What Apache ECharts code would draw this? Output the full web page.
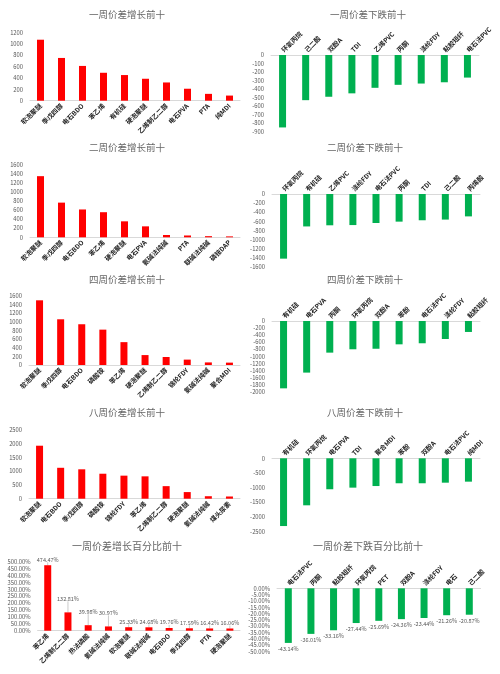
<!DOCTYPE html>
<html><head><meta charset="utf-8">
<script src="https://cdn.jsdelivr.net/npm/echarts@6/dist/echarts.min.js"></script>
<style>html,body{margin:0;padding:0;background:#fff}#c{width:500px;height:674px}</style>
</head><body><div id="c"></div>
<script>
// ---- data ----
const cat1 = ['软泡聚醚','季戊四醇','电石BDO','苯乙烯','有机硅','硬泡聚醚','乙烯制乙二醇','电石PVA','PTA','纯MDI'];
const val1 = [1070,750,610,490,450,385,320,210,120,90];
const cat2 = ['环氧丙烷','己二酸','双酚A','TDI','乙烯PVC','丙酮','涤纶FDY','粘胶短纤','电石法PVC'];
const val2 = [-850,-530,-490,-450,-385,-350,-335,-320,-265];
const cat3 = ['软泡聚醚','季戊四醇','电石BDO','苯乙烯','硬泡聚醚','电石PVA','氨碱法纯碱','PTA','联碱法纯碱','磷铵DAP'];
const val3 = [1340,760,610,550,350,240,50,40,25,20];
const cat4 = ['环氧丙烷','有机硅','乙烯PVC','涤纶FDY','电石法PVC','丙酮','TDI','己二酸','丙烯酸'];
const val4 = [-1415,-710,-685,-680,-635,-605,-575,-560,-490];
const cat5 = ['软泡聚醚','季戊四醇','电石BDO','磷酸铵','苯乙烯','硬泡聚醚','乙烯制乙二醇','锦纶FDY','氨碱法纯碱','聚合MDI'];
const val5 = [1500,1060,945,820,530,230,185,125,60,55];
const cat6 = ['有机硅','电石PVA','丙酮','环氧丙烷','双酚A','苯酚','电石法PVC','涤纶FDY','粘胶短纤'];
const val6 = [-1905,-1460,-895,-800,-785,-660,-630,-510,-310];
const cat7 = ['软泡聚醚','电石BDO','季戊四醇','磷酸铵','锦纶FDY','苯乙烯','乙烯制乙二醇','硬泡聚醚','氨碱法纯碱','煤头尿素'];
const val7 = [1920,1120,1065,905,835,810,455,240,90,80];
const cat8 = ['有机硅','环氧丙烷','电石PVA','TDI','聚合MDI','苯酚','双酚A','电石法PVC','纯MDI'];
const val8 = [-2320,-1610,-1060,-1005,-950,-855,-855,-835,-800];
const cat9 = ['苯乙烯','乙烯制乙二醇','热法磷酸','氨碱法纯碱','软泡聚醚','联碱法纯碱','电石BDO','季戊四醇','PTA','硬泡聚醚'];
const val9 = [474.47,132.81,39.98,30.97,25.33,24.68,19.76,17.59,16.42,16.06];
const cat10 = ['电石法PVC','丙酮','粘胶短纤','环氧丙烷','PET','双酚A','涤纶FDY','电石','己二酸'];
const val10 = [-43.14,-36.01,-33.16,-27.44,-25.69,-24.36,-23.44,-21.26,-20.87];
const titles = ['一周价差增长前十','一周价差下跌前十','二周价差增长前十','二周价差下跌前十','四周价差增长前十','四周价差下跌前十','八周价差增长前十','八周价差下跌前十','一周价差增长百分比前十','一周价差下跌百分比前十'];

// ---- layout ----
const FONT = '"Noto Sans CJK SC","Noto Sans",sans-serif';
const RED = '#ff0000', GREEN = '#00b050';
const panels = [
  {cats:cat1, vals:val1, tx:127, ty:17,  grid:{left:30, top:32.3, width:210, height:68.4}, min:0, max:1200, iv:200},
  {cats:cat2, vals:val2, tx:368, ty:17,  grid:{left:271, top:55, width:208, height:76.7}, min:-900, max:0, iv:100},
  {cats:cat3, vals:val3, tx:127, ty:150, grid:{left:30, top:164.3, width:210, height:73}, min:0, max:1600, iv:200},
  {cats:cat4, vals:val4, tx:365, ty:150, grid:{left:272, top:194, width:208, height:73.1}, min:-1600, max:0, iv:200},
  {cats:cat5, vals:val5, tx:127, ty:282, grid:{left:29, top:296, width:211, height:69}, min:0, max:1600, iv:200},
  {cats:cat6, vals:val6, tx:365, ty:282, grid:{left:272, top:321, width:208, height:70.7}, min:-2000, max:0, iv:200},
  {cats:cat7, vals:val7, tx:127, ty:415, grid:{left:29, top:429.7, width:211, height:69}, min:0, max:2500, iv:500},
  {cats:cat8, vals:val8, tx:365, ty:415, grid:{left:272, top:458.3, width:208, height:73}, min:-2500, max:0, iv:500},
  {cats:cat9, vals:val9, tx:127, ty:548, grid:{left:37.6, top:561.7, width:202.4, height:69}, min:0, max:500, iv:50, pct:true},
  {cats:cat10, vals:val10, tx:368, ty:548, grid:{left:277, top:588.3, width:203.6, height:63.3}, min:-50, max:0, iv:5, pct:true}
];

const option = {animation:false, title:[], grid:[], xAxis:[], yAxis:[], series:[]};
panels.forEach((p, i) => {
  const neg = p.max === 0;
  option.title.push({text:titles[i], left:p.tx, top:p.ty - 7, textAlign:'center', padding:0,
    textStyle:{fontSize: p.pct ? 10 : 9.5, color:'#666', fontWeight:'normal', fontFamily:FONT}});
  option.grid.push(Object.assign({containLabel:false}, p.grid));
  option.xAxis.push({type:'category', gridIndex:i, data:p.cats, position: neg ? 'top' : 'bottom',
    axisLine:{show:true, lineStyle:{color:'#d9d9d9', width:1}}, axisTick:{show:false},
    axisLabel:{rotate:45, interval:0, margin:4, fontSize:6.5, color:'#222', fontWeight:'bold', fontFamily:FONT}});
  option.yAxis.push({type:'value', gridIndex:i, min:p.min, max:p.max, interval:p.iv,
    axisLine:{show:false}, axisTick:{show:false}, splitLine:{show:false},
    axisLabel:{fontSize:5.8, color:'#595959', margin:7, fontFamily:FONT,
      formatter: p.pct ? (v => v.toFixed(2) + '%') : (v => String(v))}});
  const s = {type:'bar', xAxisIndex:i, yAxisIndex:i, data:p.vals, barWidth:7,
    itemStyle:{color: neg ? GREEN : RED}};
  if (p.pct) {
    s.label = {show:true, position: neg ? 'bottom' : 'top', distance:3, fontSize:5.5, color:'#595959',
      fontFamily:FONT, formatter: d => d.value.toFixed(2) + '%'};
    if (!neg) {
      s.labelLayout = function (prm) { return (prm.dataIndex >= 1 && prm.dataIndex <= 3) ? {dy:-8} : {}; };
      s.labelLine = {show:true, lineStyle:{color:'#a6a6a6', width:0.6}};
    }
  }
  option.series.push(s);
});
const chart = echarts.init(document.getElementById('c'), null, {renderer:'canvas'});
chart.setOption(option);
</script></body></html>
